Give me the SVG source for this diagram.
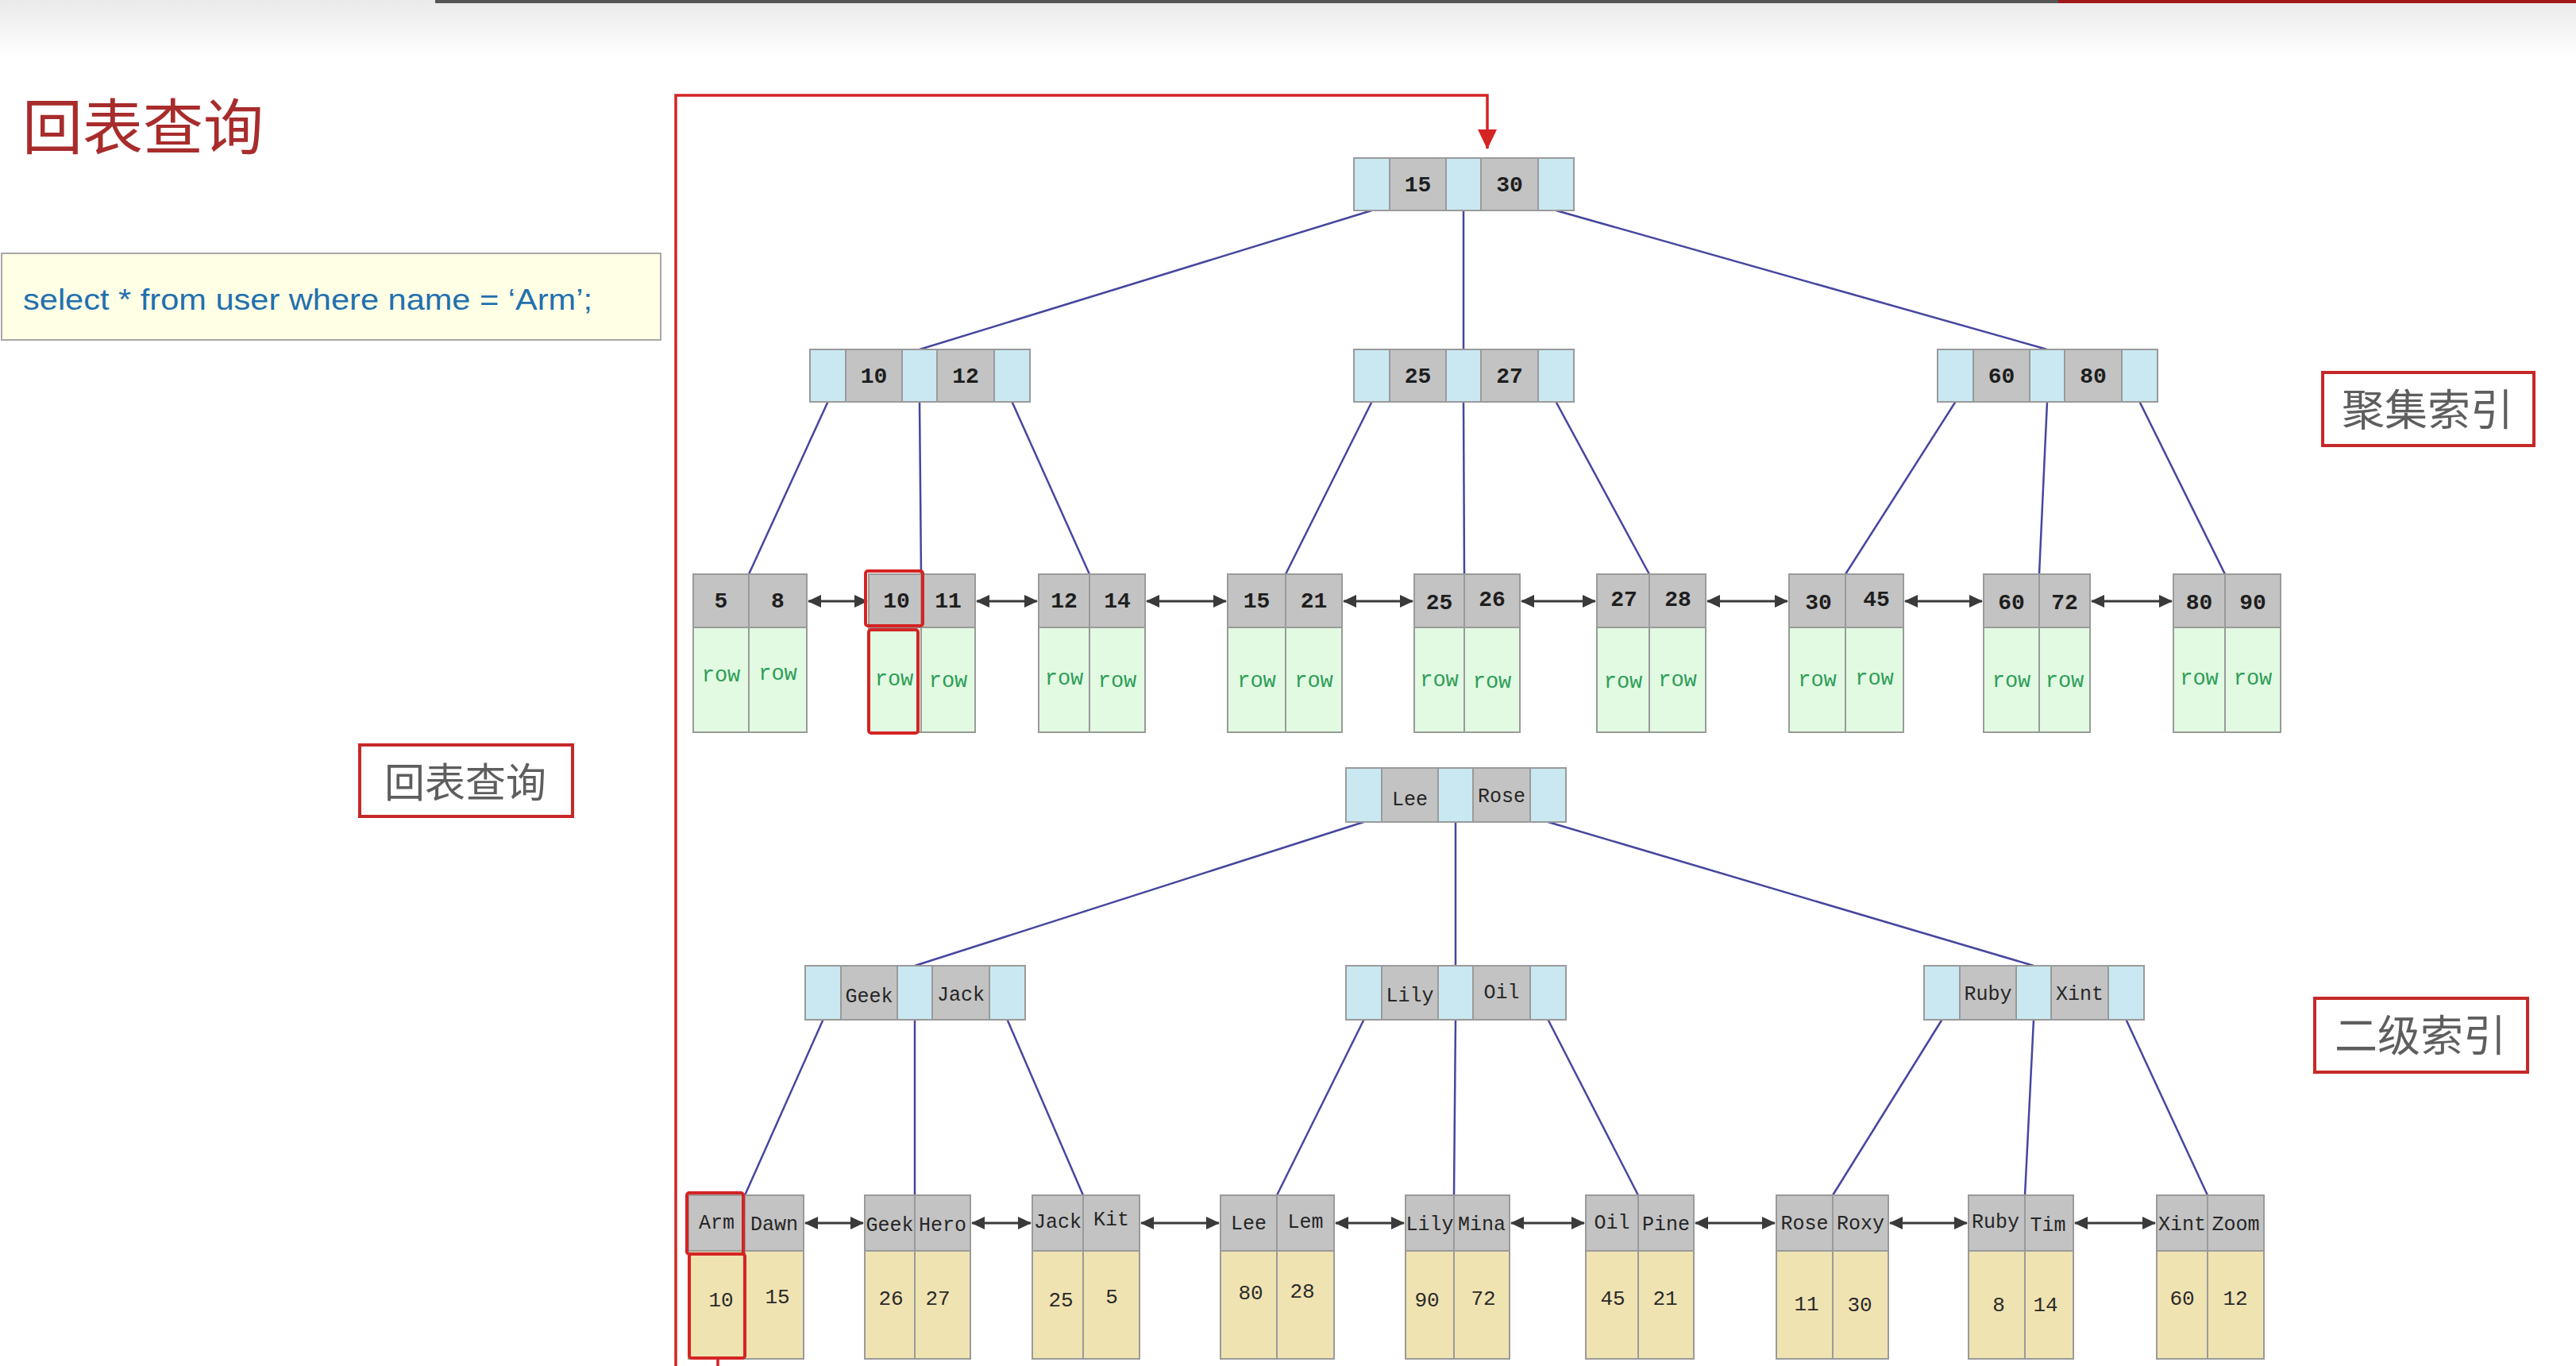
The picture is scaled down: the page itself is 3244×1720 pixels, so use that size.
<svg xmlns="http://www.w3.org/2000/svg" width="3244" height="1720" viewBox="0 0 3244 1720">
<defs>
<linearGradient id="topg" x1="0" y1="0" x2="0" y2="1">
<stop offset="0" stop-color="#EAEAEA"/>
<stop offset="1" stop-color="#FFFFFF"/>
</linearGradient>
<marker id="ah" markerUnits="userSpaceOnUse" markerWidth="18" markerHeight="16" refX="16" refY="8" orient="auto-start-reverse">
<path d="M0,0 L17,8 L0,16 z" fill="#3A3A3A"/>
</marker>
<marker id="rh" markerUnits="userSpaceOnUse" markerWidth="26" markerHeight="26" refX="24" refY="12" orient="auto">
<path d="M0,0 L25,12 L0,24 z" fill="#D42424"/>
</marker>
</defs>
<style>
.ptr{fill:#C9E8F2;stroke:#9A9A9A;stroke-width:2}
.key{fill:#C3C3C3;stroke:#9A9A9A;stroke-width:2}
.row{fill:#E2FAE2;stroke:#9A9A9A;stroke-width:2}
.val{fill:#F0E3B2;stroke:#9A9A9A;stroke-width:2}
.edge{stroke:#4646A0;stroke-width:2.5;fill:none}
.link{stroke:#3A3A3A;stroke-width:3;fill:none;marker-start:url(#ah);marker-end:url(#ah)}
.hl{fill:none;stroke:#D42424;stroke-width:4}
.num{font-family:"Liberation Mono","Courier New",monospace;font-weight:bold;font-size:28px;fill:#1E1E1E;text-anchor:middle}
.rowt{font-family:"Liberation Mono","Courier New",monospace;font-size:27px;fill:#2E9E58;text-anchor:middle}
.name{font-family:"Liberation Mono","Courier New",monospace;font-size:25px;fill:#262626;text-anchor:middle}
.v{font-family:"Liberation Mono","Courier New",monospace;font-size:26px;fill:#2A2A2A;text-anchor:middle}
.lab{font-family:"Noto Sans CJK SC",sans-serif;fill:#5E5E5E;text-anchor:middle}
.lbox{fill:#FFFFFF;stroke:#C62828;stroke-width:4}
</style>

<!-- background / screen chrome -->
<rect x="0" y="0" width="3244" height="1720" fill="#FFFFFF"/>
<rect x="0" y="0" width="3244" height="72" fill="url(#topg)"/>
<rect x="548" y="0" width="2044" height="4" fill="#555555"/>
<rect x="2592" y="0" width="652" height="4" fill="#A01818"/>

<!-- title and query -->
<g id="title">
<text x="28" y="188" font-family="'Noto Sans CJK SC',sans-serif" font-size="76" fill="#A82C2C">回表查询</text>
</g>
<g id="sql">
<rect x="2" y="319" width="830" height="109" fill="#FFFFE6" stroke="#A8A8A8" stroke-width="2"/>
<text x="29" y="390" font-family="'Liberation Sans',Arial,sans-serif" font-size="37" fill="#2270AE" textLength="717" lengthAdjust="spacingAndGlyphs">select * from user where name = ‘Arm’;</text>
</g>
<g id="label-huibiao">
<rect class="lbox" x="453" y="938" width="268" height="90"/>
<text class="lab" x="586" y="1004" font-size="51">回表查询</text>
</g>
<g id="label-juji">
<rect class="lbox" x="2925" y="469" width="266" height="92"/>
<text class="lab" x="3057" y="536" font-size="54">聚集索引</text>
</g>
<g id="label-erji">
<rect class="lbox" x="2915" y="1257" width="268" height="93"/>
<text class="lab" x="3048" y="1324" font-size="54">二级索引</text>
</g>

<!-- connectors -->
<g id="connectors">
<line class="edge" x1="1727.5" y1="265" x2="1158" y2="440"/>
<line class="edge" x1="1843" y1="265" x2="1843" y2="440"/>
<line class="edge" x1="1959.5" y1="265" x2="2578" y2="440"/>
<line class="edge" x1="1042.5" y1="506" x2="943" y2="723"/>
<line class="edge" x1="1158" y1="506" x2="1160" y2="723"/>
<line class="edge" x1="1274.5" y1="506" x2="1372" y2="723"/>
<line class="edge" x1="1727.5" y1="506" x2="1619" y2="723"/>
<line class="edge" x1="1843" y1="506" x2="1844" y2="723"/>
<line class="edge" x1="1959.5" y1="506" x2="2077" y2="723"/>
<line class="edge" x1="2462.5" y1="506" x2="2324" y2="723"/>
<line class="edge" x1="2578" y1="506" x2="2568" y2="723"/>
<line class="edge" x1="2694.5" y1="506" x2="2802" y2="723"/>

<line class="edge" x1="1717.5" y1="1035" x2="1152" y2="1216"/>
<line class="edge" x1="1833" y1="1035" x2="1833" y2="1216"/>
<line class="edge" x1="1949.5" y1="1035" x2="2561" y2="1216"/>
<line class="edge" x1="1036.5" y1="1284" x2="938" y2="1505"/>
<line class="edge" x1="1152" y1="1284" x2="1152" y2="1505"/>
<line class="edge" x1="1268.5" y1="1284" x2="1364" y2="1505"/>
<line class="edge" x1="1717.5" y1="1284" x2="1608" y2="1505"/>
<line class="edge" x1="1833" y1="1284" x2="1831" y2="1505"/>
<line class="edge" x1="1949.5" y1="1284" x2="2063" y2="1505"/>
<line class="edge" x1="2445.5" y1="1284" x2="2308" y2="1505"/>
<line class="edge" x1="2561" y1="1284" x2="2550" y2="1505"/>
<line class="edge" x1="2677.5" y1="1284" x2="2780" y2="1505"/>

<line class="link" x1="1018" y1="757" x2="1092" y2="757"/>
<line class="link" x1="1230" y1="757" x2="1306" y2="757"/>
<line class="link" x1="1444" y1="757" x2="1544" y2="757"/>
<line class="link" x1="1692" y1="757" x2="1779" y2="757"/>
<line class="link" x1="1916" y1="757" x2="2009" y2="757"/>
<line class="link" x1="2150" y1="757" x2="2251" y2="757"/>
<line class="link" x1="2399" y1="757" x2="2496" y2="757"/>
<line class="link" x1="2634" y1="757" x2="2735" y2="757"/>

<line class="link" x1="1014" y1="1540" x2="1087" y2="1540"/>
<line class="link" x1="1224" y1="1540" x2="1298" y2="1540"/>
<line class="link" x1="1437" y1="1540" x2="1535" y2="1540"/>
<line class="link" x1="1682" y1="1540" x2="1768" y2="1540"/>
<line class="link" x1="1903" y1="1540" x2="1995" y2="1540"/>
<line class="link" x1="2135" y1="1540" x2="2235" y2="1540"/>
<line class="link" x1="2380" y1="1540" x2="2477" y2="1540"/>
<line class="link" x1="2613" y1="1540" x2="2714" y2="1540"/>

<path d="M904,1711 V1770 H851 V120 H1873 V187" fill="none" stroke="#D42424" stroke-width="3.5" marker-end="url(#rh)"/>
</g>

<!-- clustered index internal nodes -->
<g id="c-root">
<rect class="ptr" x="1705" y="199" width="45" height="66"/><rect class="key" x="1750" y="199" width="71" height="66"/><rect class="ptr" x="1821" y="199" width="44" height="66"/><rect class="key" x="1865" y="199" width="72" height="66"/><rect class="ptr" x="1937" y="199" width="45" height="66"/>
<text class="num" x="1785.5" y="241">15</text><text class="num" x="1901" y="241">30</text>
</g>
<g id="c-n1">
<rect class="ptr" x="1020" y="440" width="45" height="66"/><rect class="key" x="1065" y="440" width="71" height="66"/><rect class="ptr" x="1136" y="440" width="44" height="66"/><rect class="key" x="1180" y="440" width="72" height="66"/><rect class="ptr" x="1252" y="440" width="45" height="66"/>
<text class="num" x="1100.5" y="482">10</text><text class="num" x="1216" y="482">12</text>
</g>
<g id="c-n2">
<rect class="ptr" x="1705" y="440" width="45" height="66"/><rect class="key" x="1750" y="440" width="71" height="66"/><rect class="ptr" x="1821" y="440" width="44" height="66"/><rect class="key" x="1865" y="440" width="72" height="66"/><rect class="ptr" x="1937" y="440" width="45" height="66"/>
<text class="num" x="1785.5" y="482">25</text><text class="num" x="1901" y="482">27</text>
</g>
<g id="c-n3">
<rect class="ptr" x="2440" y="440" width="45" height="66"/><rect class="key" x="2485" y="440" width="71" height="66"/><rect class="ptr" x="2556" y="440" width="44" height="66"/><rect class="key" x="2600" y="440" width="72" height="66"/><rect class="ptr" x="2672" y="440" width="45" height="66"/>
<text class="num" x="2520.5" y="482">60</text><text class="num" x="2636" y="482">80</text>
</g>

<!-- clustered index leaves -->
<g id="c-leaf1">
<rect class="key" x="873" y="723" width="70" height="67"/><rect class="key" x="943" y="723" width="73" height="67"/>
<rect class="row" x="873" y="790" width="70" height="132"/><rect class="row" x="943" y="790" width="73" height="132"/>
<text class="num" x="908" y="765">5</text><text class="num" x="979.5" y="765">8</text>
<text class="rowt" x="908" y="858">row</text><text class="rowt" x="979.5" y="856">row</text>
</g>
<g id="c-leaf2">
<rect class="key" x="1094" y="723" width="66" height="67"/><rect class="key" x="1160" y="723" width="68" height="67"/>
<rect class="row" x="1094" y="790" width="66" height="132"/><rect class="row" x="1160" y="790" width="68" height="132"/>
<text class="num" x="1129" y="765">10</text><text class="num" x="1194" y="765">11</text>
<text class="rowt" x="1126" y="863">row</text><text class="rowt" x="1194" y="865">row</text>
</g>
<g id="c-leaf3">
<rect class="key" x="1308" y="723" width="64" height="67"/><rect class="key" x="1372" y="723" width="70" height="67"/>
<rect class="row" x="1308" y="790" width="64" height="132"/><rect class="row" x="1372" y="790" width="70" height="132"/>
<text class="num" x="1340" y="765">12</text><text class="num" x="1407" y="765">14</text>
<text class="rowt" x="1340" y="862">row</text><text class="rowt" x="1407" y="865">row</text>
</g>
<g id="c-leaf4">
<rect class="key" x="1546" y="723" width="73" height="67"/><rect class="key" x="1619" y="723" width="71" height="67"/>
<rect class="row" x="1546" y="790" width="73" height="132"/><rect class="row" x="1619" y="790" width="71" height="132"/>
<text class="num" x="1582.5" y="765">15</text><text class="num" x="1654.5" y="765">21</text>
<text class="rowt" x="1582.5" y="865">row</text><text class="rowt" x="1654.5" y="865">row</text>
</g>
<g id="c-leaf5">
<rect class="key" x="1781" y="723" width="63" height="67"/><rect class="key" x="1844" y="723" width="70" height="67"/>
<rect class="row" x="1781" y="790" width="63" height="132"/><rect class="row" x="1844" y="790" width="70" height="132"/>
<text class="num" x="1812.5" y="767">25</text><text class="num" x="1879" y="763">26</text>
<text class="rowt" x="1812.5" y="864">row</text><text class="rowt" x="1879" y="866">row</text>
</g>
<g id="c-leaf6">
<rect class="key" x="2011" y="723" width="66" height="67"/><rect class="key" x="2077" y="723" width="71" height="67"/>
<rect class="row" x="2011" y="790" width="66" height="132"/><rect class="row" x="2077" y="790" width="71" height="132"/>
<text class="num" x="2045" y="763">27</text><text class="num" x="2113" y="763">28</text>
<text class="rowt" x="2044" y="866">row</text><text class="rowt" x="2112.5" y="864">row</text>
</g>
<g id="c-leaf7">
<rect class="key" x="2253" y="723" width="71" height="67"/><rect class="key" x="2324" y="723" width="73" height="67"/>
<rect class="row" x="2253" y="790" width="71" height="132"/><rect class="row" x="2324" y="790" width="73" height="132"/>
<text class="num" x="2290" y="767">30</text><text class="num" x="2363" y="763">45</text>
<text class="rowt" x="2288.5" y="864">row</text><text class="rowt" x="2360.5" y="862">row</text>
</g>
<g id="c-leaf8">
<rect class="key" x="2498" y="723" width="70" height="67"/><rect class="key" x="2568" y="723" width="64" height="67"/>
<rect class="row" x="2498" y="790" width="70" height="132"/><rect class="row" x="2568" y="790" width="64" height="132"/>
<text class="num" x="2533" y="767">60</text><text class="num" x="2600" y="767">72</text>
<text class="rowt" x="2533" y="865">row</text><text class="rowt" x="2600" y="865">row</text>
</g>
<g id="c-leaf9">
<rect class="key" x="2737" y="723" width="65" height="67"/><rect class="key" x="2802" y="723" width="70" height="67"/>
<rect class="row" x="2737" y="790" width="65" height="132"/><rect class="row" x="2802" y="790" width="70" height="132"/>
<text class="num" x="2769.5" y="767">80</text><text class="num" x="2837" y="767">90</text>
<text class="rowt" x="2769.5" y="862">row</text><text class="rowt" x="2837" y="862">row</text>
</g>

<!-- secondary index internal nodes -->
<g id="s-root">
<rect class="ptr" x="1695" y="967" width="45" height="68"/><rect class="key" x="1740" y="967" width="71" height="68"/><rect class="ptr" x="1811" y="967" width="44" height="68"/><rect class="key" x="1855" y="967" width="72" height="68"/><rect class="ptr" x="1927" y="967" width="45" height="68"/>
<text class="name" x="1775.5" y="1014">Lee</text><text class="name" x="1891" y="1010">Rose</text>
</g>
<g id="s-n1">
<rect class="ptr" x="1014" y="1216" width="45" height="68"/><rect class="key" x="1059" y="1216" width="71" height="68"/><rect class="ptr" x="1130" y="1216" width="44" height="68"/><rect class="key" x="1174" y="1216" width="72" height="68"/><rect class="ptr" x="1246" y="1216" width="45" height="68"/>
<text class="name" x="1094.5" y="1262">Geek</text><text class="name" x="1210" y="1260">Jack</text>
</g>
<g id="s-n2">
<rect class="ptr" x="1695" y="1216" width="45" height="68"/><rect class="key" x="1740" y="1216" width="71" height="68"/><rect class="ptr" x="1811" y="1216" width="44" height="68"/><rect class="key" x="1855" y="1216" width="72" height="68"/><rect class="ptr" x="1927" y="1216" width="45" height="68"/>
<text class="name" x="1775.5" y="1261">Lily</text><text class="name" x="1891" y="1257">Oil</text>
</g>
<g id="s-n3">
<rect class="ptr" x="2423" y="1216" width="45" height="68"/><rect class="key" x="2468" y="1216" width="71" height="68"/><rect class="ptr" x="2539" y="1216" width="44" height="68"/><rect class="key" x="2583" y="1216" width="72" height="68"/><rect class="ptr" x="2655" y="1216" width="45" height="68"/>
<text class="name" x="2503.5" y="1259">Ruby</text><text class="name" x="2619" y="1259">Xint</text>
</g>

<!-- secondary index leaves -->
<g id="s-leaf1">
<rect class="key" x="867" y="1505" width="71" height="70"/><rect class="key" x="938" y="1505" width="74" height="70"/>
<rect class="val" x="867" y="1575" width="71" height="136"/><rect class="val" x="938" y="1575" width="74" height="136"/>
<text class="name" x="902.5" y="1547">Arm</text><text class="name" x="975" y="1549">Dawn</text>
<text class="v" x="908" y="1645">10</text><text class="v" x="979" y="1641">15</text>
</g>
<g id="s-leaf2">
<rect class="key" x="1089" y="1505" width="63" height="70"/><rect class="key" x="1152" y="1505" width="70" height="70"/>
<rect class="val" x="1089" y="1575" width="63" height="136"/><rect class="val" x="1152" y="1575" width="70" height="136"/>
<text class="name" x="1120.5" y="1550">Geek</text><text class="name" x="1187" y="1550">Hero</text>
<text class="v" x="1122" y="1643">26</text><text class="v" x="1181" y="1643">27</text>
</g>
<g id="s-leaf3">
<rect class="key" x="1300" y="1505" width="64" height="70"/><rect class="key" x="1364" y="1505" width="71" height="70"/>
<rect class="val" x="1300" y="1575" width="64" height="136"/><rect class="val" x="1364" y="1575" width="71" height="136"/>
<text class="name" x="1332" y="1546">Jack</text><text class="name" x="1399.5" y="1543">Kit</text>
<text class="v" x="1336" y="1645">25</text><text class="v" x="1400" y="1641">5</text>
</g>
<g id="s-leaf4">
<rect class="key" x="1537" y="1505" width="71" height="70"/><rect class="key" x="1608" y="1505" width="72" height="70"/>
<rect class="val" x="1537" y="1575" width="71" height="136"/><rect class="val" x="1608" y="1575" width="72" height="136"/>
<text class="name" x="1572.5" y="1548">Lee</text><text class="name" x="1644" y="1546">Lem</text>
<text class="v" x="1575" y="1636">80</text><text class="v" x="1640" y="1634">28</text>
</g>
<g id="s-leaf5">
<rect class="key" x="1770" y="1505" width="61" height="70"/><rect class="key" x="1831" y="1505" width="70" height="70"/>
<rect class="val" x="1770" y="1575" width="61" height="136"/><rect class="val" x="1831" y="1575" width="70" height="136"/>
<text class="name" x="1800.5" y="1549">Lily</text><text class="name" x="1866" y="1549">Mina</text>
<text class="v" x="1797" y="1645">90</text><text class="v" x="1868" y="1643">72</text>
</g>
<g id="s-leaf6">
<rect class="key" x="1997" y="1505" width="66" height="70"/><rect class="key" x="2063" y="1505" width="70" height="70"/>
<rect class="val" x="1997" y="1575" width="66" height="136"/><rect class="val" x="2063" y="1575" width="70" height="136"/>
<text class="name" x="2030" y="1547">Oil</text><text class="name" x="2098" y="1549">Pine</text>
<text class="v" x="2031" y="1643">45</text><text class="v" x="2097" y="1643">21</text>
</g>
<g id="s-leaf7">
<rect class="key" x="2237" y="1505" width="71" height="70"/><rect class="key" x="2308" y="1505" width="70" height="70"/>
<rect class="val" x="2237" y="1575" width="71" height="136"/><rect class="val" x="2308" y="1575" width="70" height="136"/>
<text class="name" x="2272.5" y="1548">Rose</text><text class="name" x="2343" y="1548">Roxy</text>
<text class="v" x="2275" y="1650">11</text><text class="v" x="2342" y="1651">30</text>
</g>
<g id="s-leaf8">
<rect class="key" x="2479" y="1505" width="71" height="70"/><rect class="key" x="2550" y="1505" width="61" height="70"/>
<rect class="val" x="2479" y="1575" width="71" height="136"/><rect class="val" x="2550" y="1575" width="61" height="136"/>
<text class="name" x="2513" y="1546">Ruby</text><text class="name" x="2579" y="1550">Tim</text>
<text class="v" x="2517" y="1651">8</text><text class="v" x="2576" y="1651">14</text>
</g>
<g id="s-leaf9">
<rect class="key" x="2716" y="1505" width="64" height="70"/><rect class="key" x="2780" y="1505" width="71" height="70"/>
<rect class="val" x="2716" y="1575" width="64" height="136"/><rect class="val" x="2780" y="1575" width="71" height="136"/>
<text class="name" x="2748" y="1549">Xint</text><text class="name" x="2815.5" y="1549">Zoom</text>
<text class="v" x="2748" y="1643">60</text><text class="v" x="2815" y="1643">12</text>
</g>

<!-- highlights -->
<g id="highlights">
<rect class="hl" x="1090" y="719" width="72" height="69" rx="3"/>
<rect class="hl" x="1094" y="793" width="62" height="130" rx="3"/>
<rect class="hl" x="865" y="1502" width="71" height="77" rx="3"/>
<rect class="hl" x="868" y="1579" width="70" height="131" rx="3"/>
</g>
</svg>
